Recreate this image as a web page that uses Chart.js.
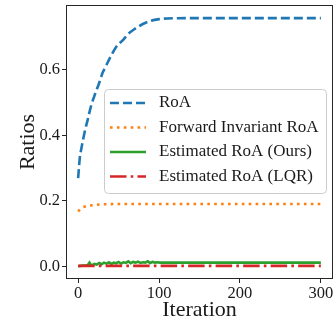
<!DOCTYPE html>
<html>
<head>
<meta charset="utf-8">
<script src="https://cdn.jsdelivr.net/npm/chart.js@4/dist/chart.umd.min.js"></script>
<style>
  html, body { margin: 0; padding: 0; background: #fff; }
  #wrap { width: 336px; height: 322px; }
</style>
</head>
<body>
<div id="wrap"><canvas id="c" width="336" height="322"></canvas></div>
<script>
// ---- data ----
const roaIter   = [0, 2, 4, 8, 12, 16, 20, 26, 30, 34, 40, 47, 55, 62, 70, 80, 90, 100, 110, 150, 200, 250, 300];
const roaVals   = [0.27, 0.33, 0.36, 0.41, 0.45, 0.49, 0.52, 0.56, 0.59, 0.61, 0.64, 0.67, 0.69, 0.71, 0.725, 0.74, 0.75, 0.755, 0.757, 0.758, 0.758, 0.758, 0.758];

const fiIter    = [0, 3, 6, 10, 15, 20, 30, 50, 100, 200, 300];
const fiVals    = [0.168, 0.176, 0.181, 0.184, 0.186, 0.188, 0.19, 0.191, 0.191, 0.191, 0.191];

const oursIter  = [0, 3, 6, 9, 12, 14, 16, 18, 20, 23, 26, 29, 32, 35, 38, 41, 44, 47, 50, 53, 56, 59, 62, 65, 68, 71, 74, 77, 80, 83, 86, 89, 92, 95, 98, 101, 110, 150, 200, 250, 300];
const oursVals  = [0.001, 0.002, 0.003, 0.003, 0.005, 0.012, 0.004, 0.005, 0.008, 0.006, 0.011, 0.007, 0.012, 0.009, 0.013, 0.008, 0.012, 0.010, 0.014, 0.009, 0.013, 0.011, 0.016, 0.010, 0.014, 0.012, 0.015, 0.011, 0.013, 0.012, 0.016, 0.011, 0.014, 0.012, 0.013, 0.012, 0.012, 0.012, 0.012, 0.012, 0.012];

const lqrIter   = [0, 100, 200, 300];
const lqrVals   = [0.002, 0.002, 0.002, 0.002];

const seriesLabels = ["RoA", "Forward Invariant RoA", "Estimated RoA (Ours)", "Estimated RoA (LQR)"];
const xTicks = [0, 100, 200, 300];
const yTicks = [0.0, 0.2, 0.4, 0.6];
const xTitle = "Iteration";
const yTitle = "Ratios";

// ---- helpers ----
const pts = (xs, ys) => xs.map((x, i) => ({x: x, y: ys[i]}));
const FONT = "'Liberation Serif', 'DejaVu Serif', serif";
const TXT = "#1a1a1a";

const frame = {
  id: 'frame',
  afterDraw(chart) {
    const {ctx, chartArea: a} = chart;
    ctx.save();
    ctx.strokeStyle = '#262626';
    ctx.lineWidth = 1;
    ctx.strokeRect(Math.round(a.left) + 0.5, Math.round(a.top) + 0.5, Math.round(a.right - a.left) - 1, Math.round(a.bottom - a.top) - 1);
    ctx.restore();
  }
};

const legendBox = {
  id: 'legendBox',
  afterDatasetsDraw(chart) {
    const ctx = chart.ctx;
    const x0 = 104, y0 = 89, w = 222, h = 104, r = 4;
    ctx.save();
    ctx.beginPath();
    ctx.roundRect(x0 + 0.5, y0 + 0.5, w, h, r);
    ctx.fillStyle = 'rgba(255,255,255,0.8)';
    ctx.fill();
    ctx.strokeStyle = '#cccccc';
    ctx.lineWidth = 1;
    ctx.stroke();
    const sets = chart.data.datasets;
    const rowY = [103, 127.5, 152, 176.5];
    sets.forEach((ds, i) => {
      const y = rowY[i];
      ctx.beginPath();
      ctx.setLineDash(ds.borderDash || []);
      ctx.lineCap = ds.borderCapStyle || 'butt';
      ctx.strokeStyle = ds.borderColor;
      ctx.lineWidth = ds.borderWidth;
      ctx.moveTo(110, y);
      ctx.lineTo(146, y);
      ctx.stroke();
      ctx.setLineDash([]);
      ctx.fillStyle = TXT;
      ctx.font = "17px " + FONT;
      ctx.textBaseline = 'middle';
      ctx.textAlign = 'left';
      ctx.fillText(ds.label, 159, y);
    });
    ctx.restore();
  }
};

const common = {pointRadius: 0, fill: false, tension: 0, borderWidth: 2.6};

new Chart(document.getElementById('c'), {
  type: 'line',
  data: {
    datasets: [
      Object.assign({label: seriesLabels[0], data: pts(roaIter, roaVals), borderColor: '#1f77b4', borderDash: [9, 4], order: 3, cubicInterpolationMode: 'monotone'}, common, {tension: 0.4}),
      Object.assign({label: seriesLabels[1], data: pts(fiIter, fiVals), borderColor: '#ff7f0e', borderDash: [2.6, 4.3], order: 2}, common),
      Object.assign({label: seriesLabels[2], data: pts(oursIter, oursVals), borderColor: '#2ca02c', order: 1}, common),
      Object.assign({label: seriesLabels[3], data: pts(lqrIter, lqrVals), borderColor: '#d62728', borderDash: [16.5, 4.2, 2.6, 4.2], order: 0}, common)
    ]
  },
  options: {
    responsive: false,
    animation: false,
    devicePixelRatio: 1,
    layout: {padding: {left: 0, top: 5, right: 3, bottom: 0}},
    plugins: {legend: {display: false}, tooltip: {enabled: false}},
    scales: {
      x: {
        type: 'linear', min: -15, max: 315,
        afterFit: s => { s.height = 43; s.paddingLeft = 0; s.paddingRight = 0; },
        afterBuildTicks: s => { s.ticks = xTicks.map(v => ({value: v})); },
        grid: {display: true, drawOnChartArea: false, tickLength: 4, color: '#262626', tickWidth: 1},
        border: {display: false},
        ticks: {color: TXT, font: {family: FONT, size: 16.5}, padding: 1, maxRotation: 0, callback: v => String(v)},
        title: {display: true, text: xTitle, color: TXT, font: {family: FONT, size: 22, lineHeight: 1.0}, padding: {top: 0, bottom: 1}}
      },
      y: {
        type: 'linear', min: -0.038, max: 0.798,
        afterFit: s => { s.width = 66; s.paddingTop = 0; s.paddingBottom = 0; },
        afterBuildTicks: s => { s.ticks = yTicks.map(v => ({value: v})); },
        grid: {display: true, drawOnChartArea: false, tickLength: 4, color: '#262626', tickWidth: 1},
        border: {display: false},
        ticks: {color: TXT, font: {family: FONT, size: 16.5}, padding: 2, callback: v => Number(v).toFixed(1)},
        title: {display: true, text: yTitle, color: TXT, font: {family: FONT, size: 22, lineHeight: 1.0}, padding: {top: 17, bottom: 0}}
      }
    }
  },
  plugins: [legendBox, frame]
});
</script>
</body>
</html>
